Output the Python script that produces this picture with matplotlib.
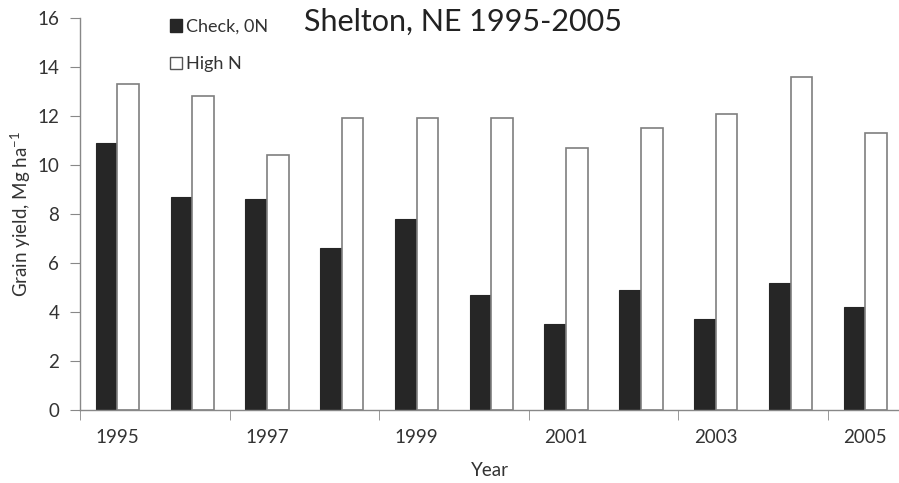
import matplotlib
matplotlib.use("Agg")
import matplotlib.pyplot as plt
import numpy as np
from matplotlib.patches import Patch

years = [1995, 1996, 1997, 1998, 1999, 2000, 2001, 2002, 2003, 2004, 2005]
check_0n = [10.9, 8.7, 8.6, 6.6, 7.8, 4.7, 3.5, 4.9, 3.7, 5.2, 4.2]
high_n = [13.3, 12.8, 10.4, 11.9, 11.9, 11.9, 10.7, 11.5, 12.1, 13.6, 11.3]
series_labels = ["Check, 0N", "High N"]
title = "Shelton, NE 1995-2005"

plt.rcParams['font.family'] = ['Lato', 'DejaVu Sans']
plt.rcParams['mathtext.fontset'] = 'custom'
plt.rcParams['mathtext.rm'] = 'Lato'

fig = plt.figure(figsize=(8.99, 4.83), dpi=100)
ax = fig.add_axes([80/899, 73/483, 819/899, 392/483])

x = np.arange(len(years))
w = 0.29
ax.bar(x - w/2, check_0n, width=w, color='#262626', edgecolor='#262626', linewidth=0.8)
ax.bar(x + w/2, high_n, width=w, color='white', edgecolor='#7f7f7f', linewidth=1.2)

ax.set_xlim(-0.5, len(years) - 0.55)
ax.set_ylim(0, 16)
ax.set_yticks(np.arange(0, 17, 2))
ax.set_xticks(x[::2])
ax.set_xticklabels([str(y) for y in years[::2]])
ax.tick_params(axis='x', length=0, pad=14, labelsize=13.5, labelcolor='#333333')
ax.set_xticks(np.arange(-0.5, len(years), 2), minor=True)
ax.tick_params(axis='x', which='minor', length=7, color='#888888', direction='out')
ax.tick_params(axis='y', length=7, color='#888888', direction='out', labelsize=13.5, labelcolor='#333333', pad=8)

for s in ['top', 'right']:
    ax.spines[s].set_visible(False)
for s in ['left', 'bottom']:
    ax.spines[s].set_color('#888888')
    ax.spines[s].set_linewidth(1.0)

ax.set_ylabel("Grain yield, Mg ha$^{\\mathregular{-1}}$", fontsize=13.5, color='#333333', labelpad=3)
ax.set_xlabel("Year", fontsize=13.5, color='#333333', labelpad=11)

fig.text(463/899, 1 - 22/483, title, fontsize=22, color='#222222', ha='center', va='center')

handles = [Patch(facecolor='#262626', edgecolor='#262626'),
           Patch(facecolor='white', edgecolor='#555555')]
leg = fig.legend(handles, series_labels, loc='upper left', bbox_to_anchor=(157/899, 1 - 6/483),
                 frameon=False, fontsize=13, handlelength=0.7, handleheight=0.7,
                 handletextpad=0.2, labelspacing=1.2, borderpad=0.2)
for t in leg.get_texts():
    t.set_color('#333333')

fig.savefig("out.png", dpi=100)
